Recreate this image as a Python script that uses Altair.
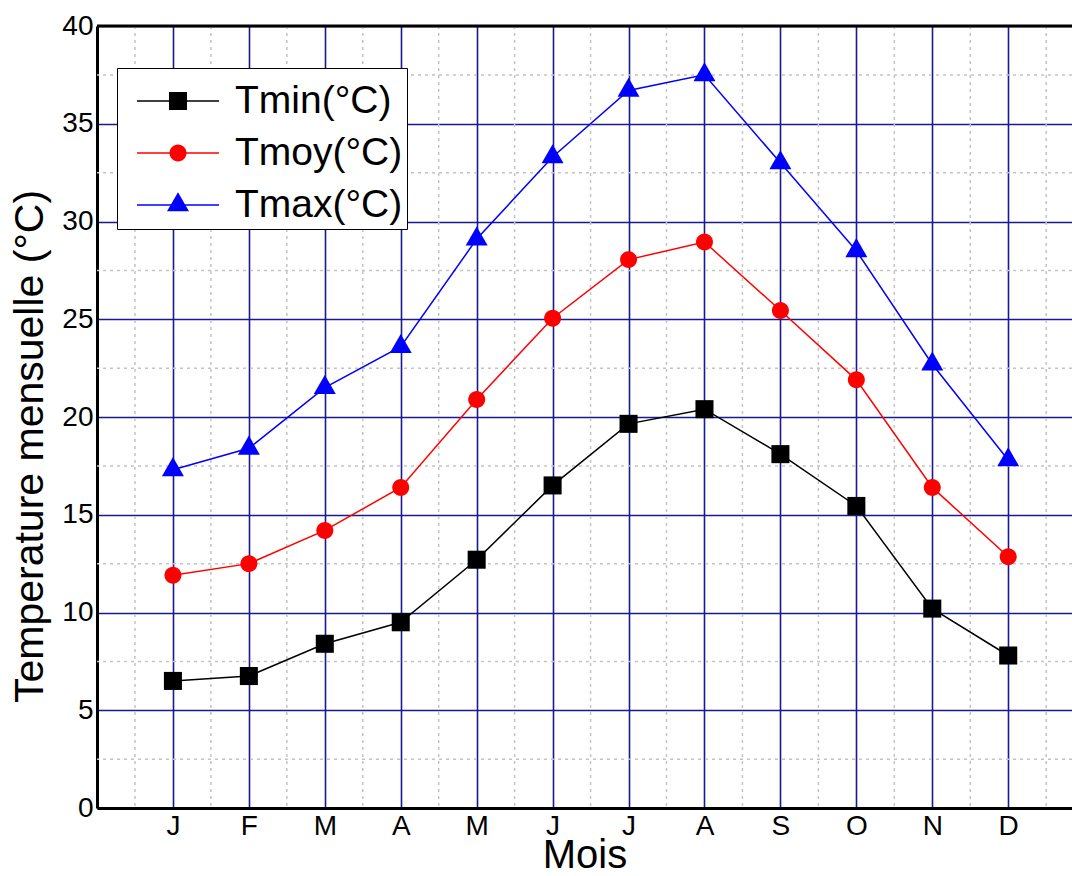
import altair as alt
import pandas as pd

# ---- data ----
months = ["J", "F", "M", "A", "M", "J", "J", "A", "S", "O", "N", "D"]
month_index = [1, 2, 3, 4, 5, 6, 7, 8, 9, 10, 11, 12]
tmin = [6.5, 6.75, 8.4, 9.5, 12.7, 16.5, 19.65, 20.4, 18.1, 15.45, 10.2, 7.8]
tmoy = [11.9, 12.5, 14.2, 16.4, 20.9, 25.05, 28.05, 28.95, 25.45, 21.9, 16.4, 12.85]
tmax = [17.3, 18.4, 21.5, 23.6, 29.1, 33.3, 36.7, 37.5, 33.0, 28.5, 22.7, 17.8]
series = ["Tmin(°C)", "Tmoy(°C)", "Tmax(°C)"]

# axis tick values
y_major = [0, 5, 10, 15, 20, 25, 30, 35, 40]
x_minor = [0.5, 1.5, 2.5, 3.5, 4.5, 5.5, 6.5, 7.5, 8.5, 9.5, 10.5, 11.5, 12.5]
y_minor = [2.5, 7.5, 12.5, 17.5, 22.5, 27.5, 32.5, 37.5]

colors = ["#000000", "#ff0000", "#0000ff"]
# marker outlines (unit = half of the legend line length)
shape_paths = [
    "M-0.22,-0.22H0.22V0.22H-0.22Z",
    "M-0.207,0A0.207,0.207 0 1,0 0.207,0A0.207,0.207 0 1,0 -0.207,0Z",
    "M0,-0.31L0.268,0.155L-0.268,0.155Z",
]
SYM = 6724

rows = []
for name, vals in zip(series, [tmin, tmoy, tmax]):
    for m, v in zip(month_index, vals):
        rows.append({"series": name, "month": m, "value": v})
df = pd.DataFrame(rows)

FONT = "Liberation Sans"
XDOM = [0, 12.84]
YDOM = [0, 40]
GRID_BLUE = "#1a1a90"
MINOR = "#c4c4c4"

xscale = alt.Scale(domain=XDOM, nice=False, zero=False)
yscale = alt.Scale(domain=YDOM, nice=False)

month_expr = "[" + ",".join("'%s'" % m for m in months) + "][datum.value - 1]"

x_axis = alt.Axis(
    title="Mois", values=month_index, labelExpr=month_expr,
    grid=True, gridColor=GRID_BLUE, gridWidth=1.6,
    ticks=False, tickSize=0, domainColor="black", domainWidth=3,
    labelFont=FONT, labelFontSize=28, labelColor="black",
    labelBaseline="alphabetic", labelPadding=26,
    titleFont=FONT, titleFontSize=40, titleFontWeight="normal", titleColor="black",
    titleBaseline="alphabetic", titleY=59,
)
y_axis = alt.Axis(
    title="Temperature mensuelle (°C)", values=y_major,
    grid=True, gridColor=GRID_BLUE, gridWidth=1.6,
    ticks=False, tickSize=0, domainColor="black", domainWidth=3,
    labelFont=FONT, labelFontSize=28, labelColor="black", labelPadding=4,
    titleFont=FONT, titleFontSize=41, titleFontWeight="normal", titleColor="black",
    titleBaseline="alphabetic", titleX=-55, titleY=420, titleAngle=270,
)

minor_x = alt.Chart(pd.DataFrame({"month": x_minor})).mark_rule(
    color=MINOR, strokeWidth=1.5, strokeDash=[3, 4]
).encode(x=alt.X("month:Q", scale=xscale, axis=x_axis))

minor_y = alt.Chart(pd.DataFrame({"value": y_minor})).mark_rule(
    color=MINOR, strokeWidth=1.5, strokeDash=[3, 4]
).encode(y=alt.Y("value:Q", scale=yscale, axis=y_axis))

top_border = alt.Chart(pd.DataFrame({"value": [YDOM[1]]})).mark_rule(
    color="black", strokeWidth=3
).encode(y=alt.Y("value:Q", scale=yscale, axis=y_axis))

common_legend = dict(
    title=" ", titleFontSize=1, titlePadding=10,
    orient="none", legendX=20, legendY=42,
    padding=4, labelFont=FONT, labelFontSize=39, labelColor="black",
    labelOffset=15, labelLimit=400, symbolOffset=15,
    symbolSize=SYM, clipHeight=36, rowPadding=13,
)

line_legend = alt.Legend(
    fillColor="white", strokeColor="black",
    symbolType="stroke", symbolStrokeWidth=1.5, zindex=0,
    **common_legend,
)
point_legend = alt.Legend(
    labelOpacity=0, symbolOpacity=1, zindex=1,
    **common_legend,
)

lines = alt.Chart(df).mark_line(strokeWidth=1.5).encode(
    x=alt.X("month:Q", scale=xscale, axis=x_axis),
    y=alt.Y("value:Q", scale=yscale, axis=y_axis),
    color=alt.Color("series:N", scale=alt.Scale(domain=series, range=colors), legend=line_legend),
    detail="series:N",
    order="month:Q",
)

points = alt.Chart(df).mark_point(filled=True, opacity=1, size=SYM).encode(
    x=alt.X("month:Q", scale=xscale, axis=x_axis),
    y=alt.Y("value:Q", scale=yscale, axis=y_axis),
    color=alt.Color("series:N", scale=alt.Scale(domain=series, range=colors), legend=point_legend),
    shape=alt.Shape("series:N", scale=alt.Scale(domain=series, range=shape_paths), legend=point_legend),
)

chart = alt.layer(minor_x, minor_y, top_border, lines, points).resolve_scale(
    color="independent", shape="independent"
).properties(
    width=975, height=782,
    autosize=alt.AutoSizeParams(type="none"),
    padding={"left": 97, "top": 26, "right": 0, "bottom": 68},
    background="white",
).configure_view(stroke=None).configure_legend(strokeWidth=2).configure(font=FONT)

chart.save("out.html", embed_options={"renderer": "svg", "actions": False})
